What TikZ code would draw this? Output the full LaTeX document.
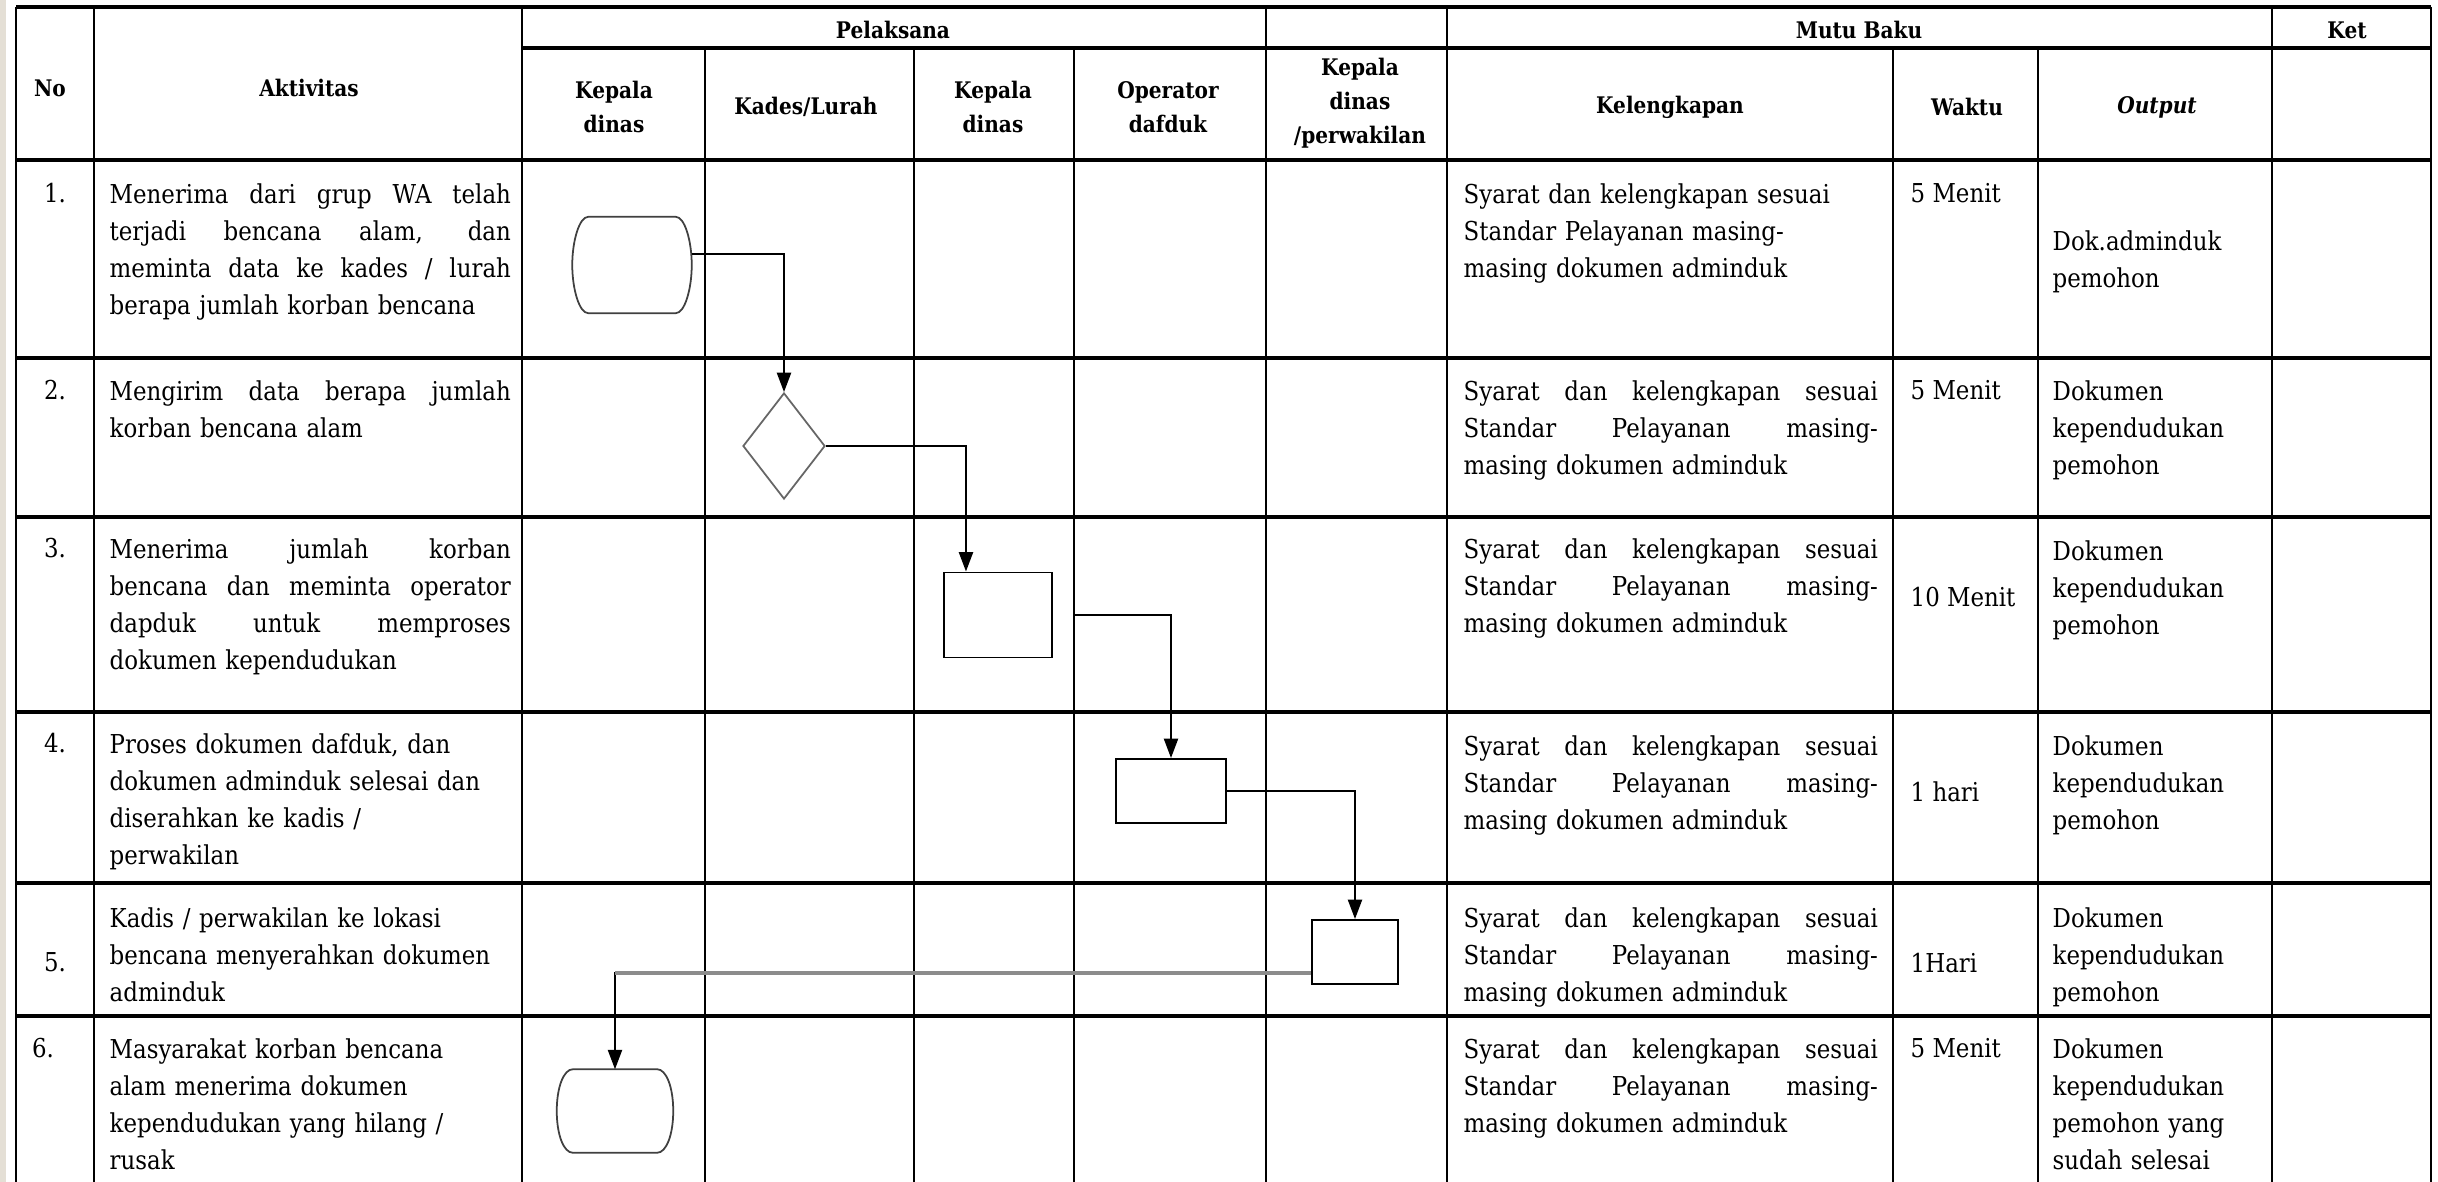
\documentclass[tikz,border=0pt]{standalone}
\usepackage{fontspec}
\setmainfont{DejaVu Serif}[FakeStretch=0.88]
\usetikzlibrary{shapes.geometric,arrows.meta}
\definecolor{beige}{RGB}{228,223,213}

% one justified line of a cell
\newcommand{\jl}[1]{\leavevmode\hbox to\linewidth{\spaceskip=0.3em plus 1fil\relax #1}\\}
% outline of a terminator drawn round a named node
\newcommand{\termoutline}[1]{%
  \draw[termline] ([xshift=0.16cm]#1.north west) -- ([xshift=-0.16cm]#1.north east)
    .. controls ([xshift=-0.07cm]#1.north east) and ([yshift=0.24cm]#1.east) .. (#1.east)
    .. controls ([yshift=-0.24cm]#1.east) and ([xshift=-0.07cm]#1.south east) .. ([xshift=-0.16cm]#1.south east)
    -- ([xshift=0.16cm]#1.south west)
    .. controls ([xshift=0.07cm]#1.south west) and ([yshift=-0.24cm]#1.west) .. (#1.west)
    .. controls ([yshift=0.24cm]#1.west) and ([xshift=0.07cm]#1.north west) .. cycle;}

\tikzset{
  rowline/.style={line width=0.9pt},
  colline/.style={line width=0.55pt},
  hd/.style={font=\fontsize{6.5}{9.6}\selectfont\bfseries, align=center, inner sep=0pt},
  cell/.style={font=\fontsize{7.4}{10.5}\selectfont, align=left, anchor=north west, inner sep=0pt},
  num/.style={font=\fontsize{7.4}{10.5}\selectfont, inner sep=0pt},
  wkt/.style={font=\fontsize{7.4}{10.5}\selectfont, anchor=west, inner sep=0pt},
  term/.style={rectangle, inner sep=0pt},
  termline/.style={draw=black!75, line width=0.5pt},
  decide/.style={draw=black!60, line width=0.5pt, diamond, inner sep=0pt},
  proc/.style={draw, line width=0.55pt, rectangle, inner sep=0pt},
  flow/.style={-{Triangle[length=5.5pt,width=4pt]}, line width=0.55pt}
}

\begin{document}
\begin{tikzpicture}[x=0.01cm, y=-0.01cm]
    % Page with its margins
    \useasboundingbox (0,0) rectangle (2438,1182);
    \fill[white] (0,0) rectangle (2438,1182);
    \fill[beige] (0,0) rectangle (6,1182);

    % Horizontal rules of the table
    \draw[rowline] (16,7) -- (2431,7);
    \draw[rowline] (522,48) -- (2431,48);
    \draw[rowline] (16,160) -- (2431,160);
    \draw[rowline] (16,358) -- (2431,358);
    \draw[rowline] (16,517) -- (2431,517);
    \draw[rowline] (16,712) -- (2431,712);
    \draw[rowline] (16,883) -- (2431,883);
    \draw[rowline] (16,1016) -- (2431,1016);

    % Vertical rules of the table
    \draw[colline] (16,7) -- (16,1182);
    \draw[colline] (94,7) -- (94,1182);
    \draw[colline] (522,7) -- (522,1182);
    \draw[colline] (705,48) -- (705,1182);
    \draw[colline] (914,48) -- (914,1182);
    \draw[colline] (1074,48) -- (1074,1182);
    \draw[colline] (1266,7) -- (1266,1182);
    \draw[colline] (1447,7) -- (1447,1182);
    \draw[colline] (1893,48) -- (1893,1182);
    \draw[colline] (2038,48) -- (2038,1182);
    \draw[colline] (2272,7) -- (2272,1182);
    \draw[colline] (2431,7) -- (2431,1182);

    % Header
    \node[hd] (hno) at (50,88) {No};
    \node[hd] (hakt) at (309,88) {Aktivitas};
    \node[hd] (hpel) at (893,30) {Pelaksana};
    \node[hd] (hmutu) at (1859,30) {Mutu Baku};
    \node[hd] (hket) at (2347,30) {Ket};
    \node[hd] (hkd1) at (614,107) {Kepala\\dinas};
    \node[hd] (hkades) at (806,107) {Kades/Lurah};
    \node[hd] (hkd2) at (993,107) {Kepala\\dinas};
    \node[hd] (hop) at (1168,107) {Operator\\dafduk};
    \node[hd] (hkd3) at (1360,103) {Kepala\\dinas\\/perwakilan};
    \node[hd] (hkel) at (1670,107) {Kelengkapan};
    \node[hd] (hwkt) at (1967,107) {Waktu};
    \node[hd] (hout) at (2157,107) {\textit{Output}};

    % Row numbers
    \node[num] (n1) at (55,193) {1.};
    \node[num] (n2) at (55,390) {2.};
    \node[num] (n3) at (55,548) {3.};
    \node[num] (n4) at (55,743) {4.};
    \node[num] (n5) at (55,962) {5.};
    \node[num] (n6) at (43,1048) {6.};

    % Aktivitas
    \node[cell, text width=4.01cm] (a1) at (109,183) {\jl{Menerima dari grup WA telah}\jl{terjadi bencana alam, dan}\jl{meminta data ke kades / lurah}berapa jumlah korban bencana};
    \node[cell, text width=4.01cm] (a2) at (109,380) {\jl{Mengirim data berapa jumlah}korban bencana alam};
    \node[cell, text width=4.01cm] (a3) at (109,538) {\jl{Menerima jumlah korban}\jl{bencana dan meminta operator}\jl{dapduk untuk memproses}dokumen kependudukan};
    \node[cell, text width=4.01cm] (a4) at (109,733) {Proses dokumen dafduk, dan\\dokumen adminduk selesai dan\\diserahkan ke kadis /\\perwakilan};
    \node[cell, text width=4.01cm] (a5) at (109,907) {Kadis / perwakilan ke lokasi\\bencana menyerahkan dokumen\\adminduk};
    \node[cell, text width=4.01cm] (a6) at (109,1038) {Masyarakat korban bencana\\alam menerima dokumen\\kependudukan yang hilang /\\rusak};

    % Kelengkapan
    \node[cell, text width=4.14cm] (k1) at (1463,183) {Syarat dan kelengkapan sesuai\\Standar Pelayanan masing-\\masing dokumen adminduk};
    \node[cell, text width=4.14cm] (k2) at (1463,380) {\jl{Syarat dan kelengkapan sesuai}\jl{Standar Pelayanan masing-}masing dokumen adminduk};
    \node[cell, text width=4.14cm] (k3) at (1463,538) {\jl{Syarat dan kelengkapan sesuai}\jl{Standar Pelayanan masing-}masing dokumen adminduk};
    \node[cell, text width=4.14cm] (k4) at (1463,735) {\jl{Syarat dan kelengkapan sesuai}\jl{Standar Pelayanan masing-}masing dokumen adminduk};
    \node[cell, text width=4.14cm] (k5) at (1463,907) {\jl{Syarat dan kelengkapan sesuai}\jl{Standar Pelayanan masing-}masing dokumen adminduk};
    \node[cell, text width=4.14cm] (k6) at (1463,1038) {\jl{Syarat dan kelengkapan sesuai}\jl{Standar Pelayanan masing-}masing dokumen adminduk};

    % Waktu
    \node[wkt] (w1) at (1910,193) {5 Menit};
    \node[wkt] (w2) at (1910,390) {5 Menit};
    \node[wkt] (w3) at (1910,597) {10 Menit};
    \node[wkt] (w4) at (1910,792) {1 hari};
    \node[wkt] (w5) at (1910,963) {1Hari};
    \node[wkt] (w6) at (1910,1048) {5 Menit};

    % Output
    \node[cell, text width=2.1cm] (o1) at (2052,230) {Dok.adminduk\\pemohon};
    \node[cell, text width=2.1cm] (o2) at (2052,380) {Dokumen\\kependudukan\\pemohon};
    \node[cell, text width=2.1cm] (o3) at (2052,540) {Dokumen\\kependudukan\\pemohon};
    \node[cell, text width=2.1cm] (o4) at (2052,735) {Dokumen\\kependudukan\\pemohon};
    \node[cell, text width=2.1cm] (o5) at (2052,907) {Dokumen\\kependudukan\\pemohon};
    \node[cell, text width=2.1cm] (o6) at (2052,1038) {Dokumen\\kependudukan\\pemohon yang\\sudah selesai};

    % Flow symbols
    \node[term, minimum width=1.18cm, minimum height=0.95cm] (start) at (632,265) {};
    \termoutline{start}
    \node[decide, minimum width=0.82cm, minimum height=1.06cm] (kirim) at (784,446) {};
    \node[proc, minimum width=1.08cm, minimum height=0.85cm] (terima) at (998,615) {};
    \node[proc, minimum width=1.10cm, minimum height=0.64cm] (proses) at (1171,791) {};
    \node[proc, minimum width=0.86cm, minimum height=0.64cm] (serah) at (1355,952) {};
    \node[term, minimum width=1.15cm, minimum height=0.82cm] (selesai) at (615,1111) {};
    \termoutline{selesai}

    % Connectors
    \draw[flow] ([yshift=0.11cm]start.east) -| (kirim.north);
    \draw[flow] (kirim.east) -| ([xshift=-0.32cm]terima.north);
    \draw[flow] ([xshift=0.22cm]terima.east) -| (proses.north);
    \draw[flow] (proses.east) -| (serah.north);
    \draw[flow] ([yshift=-0.21cm]serah.west) -| (selesai.north);
    \draw[line width=1.1pt, black!45] ([yshift=-0.21cm]serah.west) -- ([yshift=-0.21cm]serah.west -| selesai.north);

\end{tikzpicture}
\end{document}
